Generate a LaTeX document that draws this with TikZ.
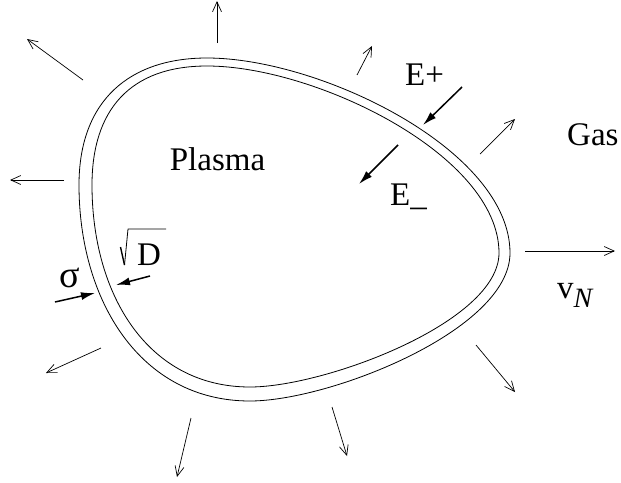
\documentclass[tikz,border=0pt]{standalone}
\usepackage{fontspec}
\setmainfont{Liberation Serif}
\usetikzlibrary{arrows.meta}
\definecolor{frontline}{HTML}{000000}
\definecolor{fronttext}{HTML}{000000}
\tikzset{
  front wall/.style={
    draw=frontline, line width=0.8pt, line join=round
  },
  flux arrow/.style={
    draw=frontline, line width=0.7pt,
    -{Straight Barb[length=10pt,width=9pt,line width=0.7pt]}
  },
  charge arrow/.style={
    draw=frontline, line width=1.5pt,
    -{Latex[length=14pt,width=8pt]}
  },
  front label/.style={
    text=fronttext, inner sep=0pt, anchor=base west,
    font=\fontsize{33}{40}\selectfont
  }
}

\begin{document}
\begin{tikzpicture}[x=1pt,y=-1pt]
  \useasboundingbox (0,0) rectangle (621,482);

  % outer and inner edge of the front
  \draw[front wall] (207,58) .. controls (320,58) and (510,150) .. (510,253)
    .. controls (510,330) and (330,401) .. (250,401)
    .. controls (140,401) and (79,300) .. (79,185)
    .. controls (79,100) and (130,58) .. cycle;
  \draw[front wall] (207,66) .. controls (315,66) and (499,155) .. (499,253)
    .. controls (499,322) and (325,387) .. (250,387)
    .. controls (148,387) and (92,295) .. (92,185)
    .. controls (92,110) and (130,66) .. cycle;

  \node[front label,anchor=base] (plasma) at (217.5,170) {Plasma};
  \node[front label] (gas) at (567,145) {Gas};
  \node[front label] (eplus) at (405,85) {E+};
  \node[front label] (eminus) at (390,205) {E\_};
  \node[front label,font=\fontsize{38}{40}\selectfont] (sigma) at (59,287) {σ};
  \node[front label] (dval) at (137,265) {D};
  % root sign over D
  \draw[frontline,line width=1.4pt] (120.5,247) -- (124.5,265);
  \draw[front wall] (124.5,265) -- (128,229) -- (166,229);

  \node[front label] (vn) at (557,298)
    {v\raisebox{-9pt}{\fontsize{28}{30}\selectfont\itshape N}};

  % outward flow
  \draw[flux arrow] (217,43) -- (217,1);
  \draw[flux arrow] (83,80) -- (27,39);
  \draw[flux arrow] (64,180) -- (10,180);
  \draw[flux arrow] (101,348) -- (46,373);
  \draw[flux arrow] (191,418) -- (177,477);
  \draw[flux arrow] (332,407) -- (347,456);
  \draw[flux arrow] (476,345) -- (515,392);
  \draw[flux arrow] (525,251) -- (615,251);
  \draw[flux arrow] (480,154) -- (515,119);
  \draw[flux arrow] (357,75) -- (372,46);

  % energy and width marks
  \draw[charge arrow] (462,87) -- (423,125);
  \draw[charge arrow] (398,145) -- (359,184);
  \draw[charge arrow] (55,302) -- (95,293);
  \draw[charge arrow] (150,276) -- (116,285);
\end{tikzpicture}
\end{document}
